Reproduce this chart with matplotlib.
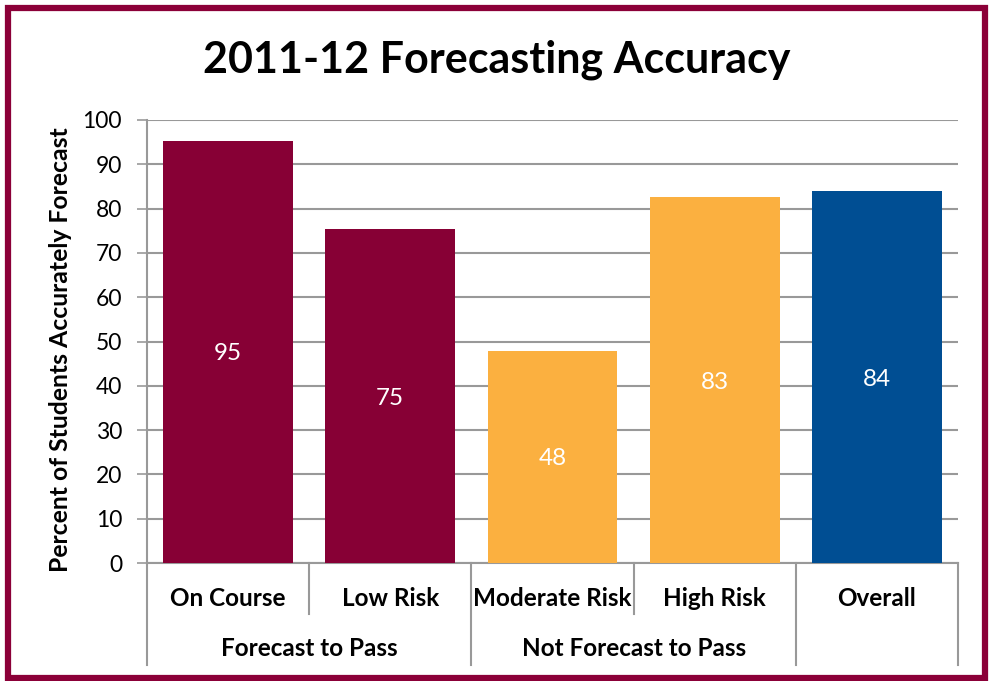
import matplotlib
matplotlib.use("Agg")
import matplotlib.pyplot as plt
from matplotlib.patches import Rectangle
import matplotlib.transforms as mtransforms

categories = ["On Course", "Low Risk", "Moderate Risk", "High Risk", "Overall"]
values = [95.3, 75.4, 47.9, 82.6, 84.0]
labels = ["95", "75", "48", "83", "84"]
groups = [("Forecast to Pass", 0, 2), ("Not Forecast to Pass", 2, 4), ("", 4, 5)]
colors = ["#870035", "#870035", "#FBB040", "#FBB040", "#004E93"]
yticks = list(range(0, 101, 10))

plt.rcParams['font.family'] = ['Lato', 'DejaVu Sans']

W, H = 989, 681
fig = plt.figure(figsize=(W / 100, H / 100), dpi=100)
fig.patch.set_facecolor("white")
fig.add_artist(Rectangle((8 / W, 1 - 678 / H), 977 / W, 670 / H, transform=fig.transFigure,
                         fill=False, edgecolor="#8B0038", linewidth=4.5))

ax = fig.add_axes([147 / W, 1 - 563 / H, (958 - 147) / W, (563 - 120) / H])
x = list(range(len(categories)))
ax.bar(x, values, width=0.8, color=colors, zorder=3)
ax.set_xlim(-0.5, len(categories) - 0.5)
ax.set_ylim(0, 100)
ax.set_yticks(yticks)
ax.set_yticklabels([str(t) for t in yticks], fontsize=16.5)
ax.tick_params(axis='y', length=7, width=1.2, color="#999999", pad=11)
ax.tick_params(axis='x', length=0, labelbottom=False)
ax.grid(axis='y', color="#999999", linewidth=1.5, zorder=0)
for s in ["top", "right"]:
    ax.spines[s].set_visible(False)
for s in ["left", "bottom"]:
    ax.spines[s].set_color("#999999")
    ax.spines[s].set_linewidth(1.5)

for xi, v, lab in zip(x, values, labels):
    ax.annotate(lab, (xi, v / 2), xytext=(0, -1.5), textcoords="offset points",
                ha="center", va="center", color="white", fontsize=17.5, zorder=4)

trans = mtransforms.blended_transform_factory(ax.transData, ax.transAxes)
axh = 563 - 120
def yfrac(py):
    return -(py - 563) / axh

# category labels
for xi, c in zip(x, categories):
    ax.text(xi, yfrac(598), c, transform=trans, ha="center", va="center",
            fontsize=17.5, fontweight="bold", clip_on=False)
# separators
short_bounds = []
full_bounds = set()
for name, a, b in groups:
    full_bounds.add(a - 0.5)
    full_bounds.add(b - 0.5)
    for k in range(a + 1, b):
        short_bounds.append(k - 0.5)
    if name:
        ax.text((a + b - 1) / 2, yfrac(649), name, transform=trans, ha="center", va="center",
                fontsize=17.5, fontweight="bold", clip_on=False)
for bx in sorted(full_bounds):
    ax.plot([bx, bx], [0, yfrac(665)], transform=trans, color="#999999", lw=1.5, clip_on=False)
for bx in short_bounds:
    ax.plot([bx, bx], [0, yfrac(614)], transform=trans, color="#999999", lw=1.5, clip_on=False)

ax.set_ylabel("Percent of Students Accurately Forecast", fontsize=17.8, fontweight="bold")
ax.yaxis.set_label_coords(-(147 - 61) / (958 - 147), yfrac(350))
ax.yaxis.label.set_va("center")

fig.text(497 / W, 1 - 60 / H, "2011-12 Forecasting Accuracy", ha="center", va="center",
         fontsize=31, fontweight="bold")

fig.savefig("out.png", dpi=100, facecolor="white")
